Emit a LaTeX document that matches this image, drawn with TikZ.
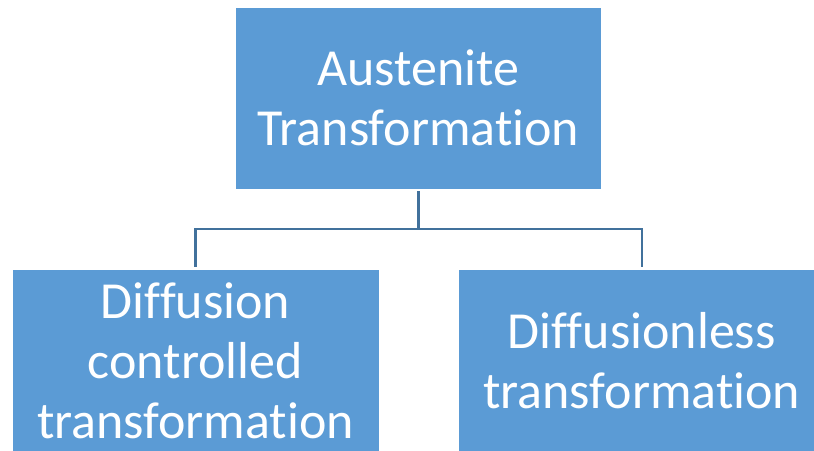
\documentclass[tikz,border=0pt]{standalone}
\usepackage{fontspec}
\setmainfont{Carlito}[Ligatures=NoCommon]
\definecolor{boxblue}{HTML}{5B9BD5}
\definecolor{lineblue}{HTML}{41719C}
\begin{document}
\begin{tikzpicture}[x=1pt,y=1pt,
  box/.style={rectangle, fill=boxblue, draw=white, line width=0.8pt, text=white,
    align=center, inner sep=0pt, font=\fontsize{52}{60}\selectfont},
  conn/.style={draw=lineblue, line width=2.2pt}]
\useasboundingbox (0,0) rectangle (814,-450);
\node[box, minimum width=366.5pt, minimum height=181.7pt] (top) at (418.5,-98.2) {Austenite\\Transformation};
\node[box, minimum width=367pt, minimum height=183pt] (left) at (195.5,-360.5) {Diffusion\\controlled\\transformation};
\node[box, minimum width=367pt, minimum height=183pt] (right) at (641.7,-360.5) {Diffusionless\\transformation};
\coordinate (j) at (418.5,-229);
\draw[conn, shorten <=2pt] (top.south) -- (j);
\draw[conn, shorten <=2pt, shorten >=2pt] (left.north) |- (j) -| (right.north);
\end{tikzpicture}
\end{document}
